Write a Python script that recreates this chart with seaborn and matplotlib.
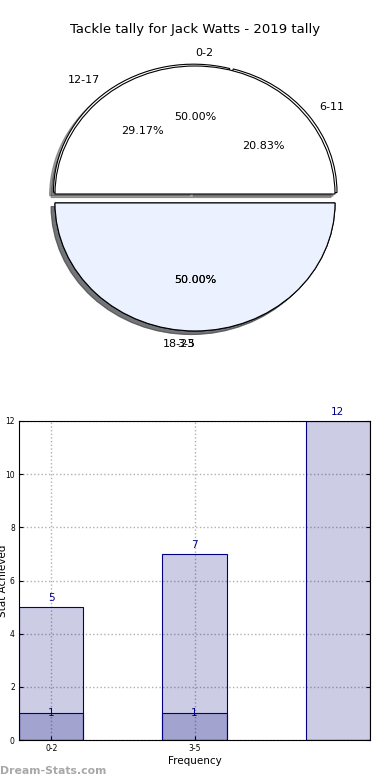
import matplotlib
matplotlib.use("Agg")
import matplotlib.pyplot as plt
import numpy as np
import pandas as pd
import seaborn as sns

sns.set_style("white")
plt.rcParams["font.family"] = ["DejaVu Sans"]
plt.rcParams.update({"text.color": "black", "axes.labelcolor": "black",
                     "xtick.color": "black", "ytick.color": "black"})

title = "Tackle tally for Jack Watts - 2019 tally"

# pie data (drawn as two overlapping pies, like the original)
pie1_labels = ["0-2", "3-5"]
pie1_values = [12, 12]
pie2_labels = ["6-11", "12-17", "18-23"]
pie2_values = [5, 7, 12]

# bar data
bar_cats = ["0-2", "3-5", "6-11"]
bar_totals = [5, 7, 12]
bar_inner = [1, 1, 0]
tick_labels = ["0-2", "3-5"]

white = "#ffffff"
blue = "#ebf1fe"
navy = (0, 0, 0.5)

fig = plt.figure(figsize=(3.9, 7.8), dpi=100)
fig.text(0.5, 1 - 30 / 780, title, ha="center", va="center", fontsize=9.5)

# ---- pie ----
ax1 = fig.add_axes([20 / 390, 1 - 360 / 780, 350 / 390, 320 / 780])
wp = dict(edgecolor="black", linewidth=0.8)
tp = dict(fontsize=8)
_, t2, _ = ax1.pie(pie2_values, labels=pie2_labels, colors=[white, white, blue],
                   explode=[0.018, 0.018, 0.07], autopct="%.2f%%", shadow=True,
                   wedgeprops=wp, textprops=tp)
_, t1, _ = ax1.pie(pie1_values, labels=pie1_labels, colors=[white, blue], explode=[0, 0.07],
                   autopct="%.2f%%", shadow=True, wedgeprops=wp, textprops=tp)
t1[0].set_ha("left")
t1[1].set_ha("right")
t2[2].set_ha("right")
ax1.set_aspect("auto")
ax1.set_xlim(-1.25, 1.25)
ax1.set_ylim(-(360 - 194) / 128, (194 - 40) / 128)
ax1.axis("off")

# ---- bars ----
ax2 = fig.add_axes([19 / 390, 40 / 780, 351 / 390, 319 / 780])
df = pd.DataFrame({"cat": bar_cats, "total": bar_totals, "inner": bar_inner})
sns.barplot(data=df, x="cat", y="total", width=0.45, color=navy, saturation=1,
            edgecolor="navy", linewidth=0.8, ax=ax2)
sns.barplot(data=df, x="cat", y="inner", width=0.45, color=navy, saturation=1,
            edgecolor="navy", linewidth=0.8, ax=ax2)
for p in ax2.patches:
    p.set_facecolor((0, 0, 0.5, 0.2))
    p.set_edgecolor("navy")
    p.set_zorder(2)

for i, (t, n) in enumerate(zip(bar_totals, bar_inner)):
    ax2.text(i, t + 0.15, str(t), ha="center", va="bottom", color="navy", fontsize=7.5)
    if n > 0:
        ax2.text(i, n, str(n), ha="center", va="center", color="navy", fontsize=7.5)

ax2.set_xlim(-0.225, 2.225)
ax2.set_ylim(0, 12)
ax2.set_yticks(np.arange(0, 13, 2))
ax2.set_xticks([0, 1])
ax2.set_xticklabels(tick_labels)
ax2.tick_params(labelsize=5.5, direction="in", length=3, right=True, left=True, bottom=True, pad=3)
ax2.grid(True, linestyle=":", color="#b0b0b0", linewidth=1)
ax2.set_axisbelow(True)
for s in ax2.spines.values():
    s.set_color("black")
    s.set_linewidth(0.8)
ax2.set_xlabel("Frequency", fontsize=7.5, labelpad=2)
ax2.set_ylabel("Stat Achieved", fontsize=7.5)
ax2.yaxis.set_label_coords(-0.03, 0.5)

fig.text(0.0, 1 - 771 / 780, "Dream-Stats.com", ha="left", va="center",
         fontsize=7.8, color="#a8a8a8", fontweight="bold")

fig.savefig("out.png", dpi=100)
